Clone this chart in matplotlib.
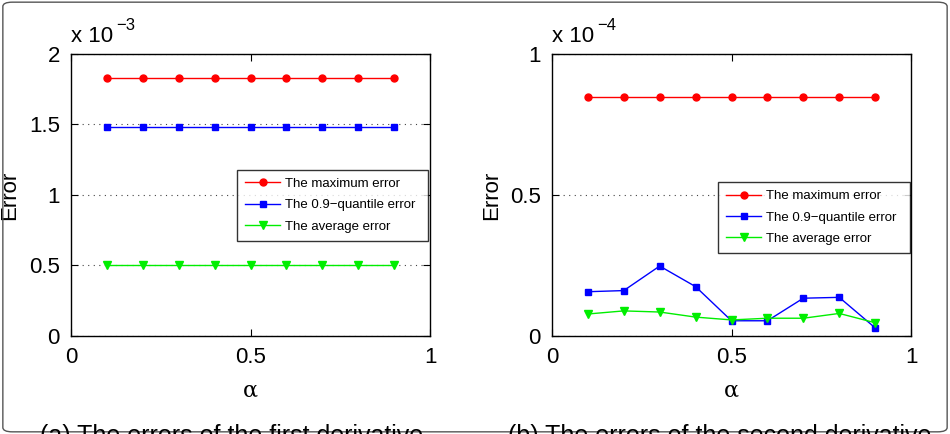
import numpy as np
import matplotlib.pyplot as plt
from matplotlib.patches import FancyBboxPatch

plt.rcParams['font.family'] = ['Liberation Sans', 'DejaVu Sans']

# data
alpha = [0.1, 0.2, 0.3, 0.4, 0.5, 0.6, 0.7, 0.8, 0.9]

# (a) first derivative, units of 1e-3
max_a = [1.83, 1.83, 1.83, 1.83, 1.83, 1.83, 1.83, 1.83, 1.83]
q90_a = [1.48, 1.48, 1.48, 1.48, 1.48, 1.48, 1.48, 1.48, 1.48]
avg_a = [0.503, 0.503, 0.503, 0.503, 0.503, 0.503, 0.503, 0.503, 0.503]

# (b) second derivative, units of 1e-4
max_b = [0.847, 0.847, 0.847, 0.847, 0.847, 0.847, 0.847, 0.847, 0.847]
q90_b = [0.157, 0.161, 0.248, 0.175, 0.054, 0.054, 0.134, 0.137, 0.029]
avg_b = [0.078, 0.089, 0.085, 0.067, 0.057, 0.063, 0.063, 0.080, 0.047]

labels = ['The maximum error', 'The 0.9\u2212quantile error', 'The average error']
captions = ['(a) The errors of the first derivative',
            '(b) The errors of the second derivative']

fig = plt.figure(figsize=(9.5, 4.34), dpi=100)
fig.patches.append(FancyBboxPatch((0.003, 0.005), 0.994, 0.99,
                                  boxstyle='round,pad=0,rounding_size=0.01',
                                  transform=fig.transFigure, fill=False,
                                  edgecolor='#555555', linewidth=1.0))

ax1 = fig.add_axes([0.0747, 0.2258, 0.378, 0.65])
ax2 = fig.add_axes([0.581, 0.2258, 0.378, 0.65])


def draw(ax, mx, q, av, ymax, yticks, ylabels, expo, leg_box):
    ax.plot(alpha, mx, color='red', marker='o', markersize=5, linewidth=1)
    ax.plot(alpha, q, color='blue', marker='s', markersize=4.5, linewidth=1)
    ax.plot(alpha, av, color='#00ee00', marker='v', markersize=6, linewidth=1)
    ax.set_xlim(0, 1)
    ax.set_ylim(0, ymax)
    ax.set_xticks([0, 0.5, 1])
    ax.set_xticklabels(['0', '0.5', '1'])
    ax.set_yticks(yticks)
    ax.set_yticklabels(ylabels)
    ax.yaxis.grid(True, linestyle=(0, (1, 4)), color='#444444', linewidth=0.8)
    ax.tick_params(direction='in', top=True, right=True, labelsize=16,
                   length=5, width=0.8, pad=8)
    for s in ax.spines.values():
        s.set_linewidth(1.0)
    ax.set_xlabel('\u03b1', fontsize=16, labelpad=8, family='DejaVu Serif')
    ax.set_ylabel('Error', fontsize=16, labelpad=6)
    ax.text(0.0, 1.025, 'x 10', transform=ax.transAxes, fontsize=16,
            ha='left', va='bottom')
    ax.text(0.125, 1.075, expo, transform=ax.transAxes, fontsize=12,
            ha='left', va='bottom')
    leg = ax.legend(labels, loc='upper left', bbox_to_anchor=leg_box,
                    mode='expand', fontsize=9.5, frameon=True, fancybox=False,
                    edgecolor='black', handlelength=2.7, borderpad=0.6,
                    labelspacing=0.7, handletextpad=0.35, borderaxespad=0)
    leg.get_frame().set_linewidth(1.0)


draw(ax1, max_a, q90_a, avg_a, 2, [0, 0.5, 1, 1.5, 2],
     ['0', '0.5', '1', '1.5', '2'], '\u22123', (0.462, 0.589, 0.532, 0.0))
draw(ax2, max_b, q90_b, avg_b, 1, [0, 0.5, 1],
     ['0', '0.5', '1'], '\u22124', (0.462, 0.546, 0.535, 0.0))

fig.text(0.244, -0.021, captions[0], fontsize=18, ha='center', va='baseline')
fig.text(0.758, -0.021, captions[1], fontsize=18, ha='center', va='baseline')

fig.savefig('out.png', dpi=100)
